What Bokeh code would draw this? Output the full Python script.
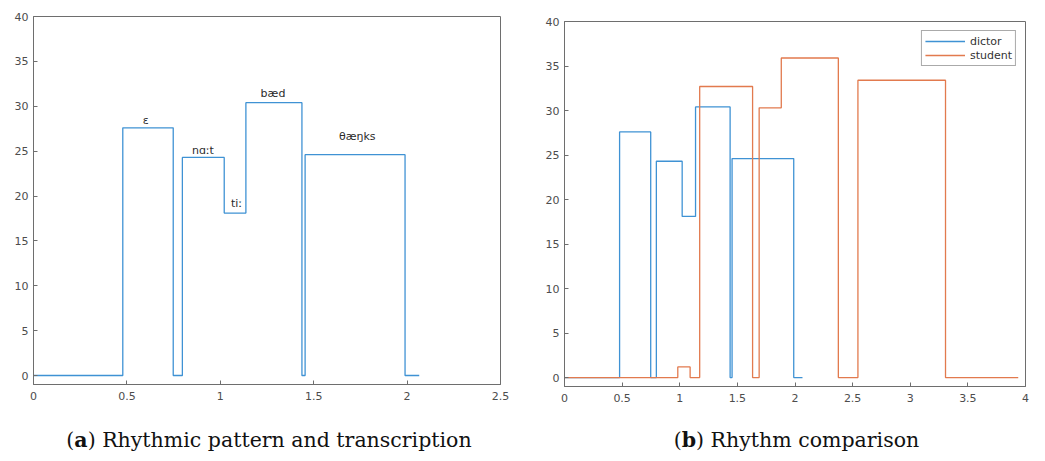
from bokeh.plotting import figure
from bokeh.models import (Range1d, FixedTicker, Div, Legend, LegendItem,
                          NumeralTickFormatter)
from bokeh.layouts import row, column
from bokeh.core.properties import value
from bokeh.embed import file_html
from bokeh.resources import INLINE

# ---- data ----
dictor_edges = [0, 0.478, 0.748, 0.797, 1.021, 1.137, 1.437, 1.454, 1.989, 2.065]
dictor_levels = [0, 27.6, 0, 24.3, 18.1, 30.4, 0, 24.6, 0]

student_edges = [0, 0.983, 1.090, 1.173, 1.632, 1.689, 1.881, 2.376, 2.546, 3.306, 3.937]
student_levels = [0, 1.2, 0, 32.7, 0, 30.3, 35.9, 0, 33.4, 0]

syllables = ["ɛ", "nɑːt", "tiː", "bæd", "θæŋks"]
syll_x = [0.601, 0.907, 1.087, 1.282, 1.733]
syll_y = [28.4, 25.1, 19.2, 31.4, 26.6]

y_ticks = [0, 5, 10, 15, 20, 25, 30, 35, 40]
x_ticks_a = [0, 0.5, 1, 1.5, 2, 2.5]
x_ticks_b = [0, 0.5, 1, 1.5, 2, 2.5, 3, 3.5, 4]

caption_a = "(<b>a</b>) Rhythmic pattern and transcription"
caption_b = "(<b>b</b>) Rhythm comparison"

BLUE = "#3f92d4"
ORANGE = "#e27a4e"
AXIS = "#6e6e6e"
LABEL = "#4d4d4d"
FONT = "DejaVu Sans"


def make_fig(xmax, xticks, fw, fh, bl, bt, br, bb):
    p = figure(frame_width=fw, frame_height=fh,
               x_range=Range1d(0, xmax), y_range=Range1d(-1, 40),
               output_backend="svg", toolbar_location=None,
               min_border_left=bl, min_border_top=bt,
               min_border_right=br, min_border_bottom=bb)
    p.grid.visible = False
    p.outline_line_color = AXIS
    p.outline_line_width = 1
    p.background_fill_color = "white"
    p.border_fill_color = "white"
    for ax, tk in ((p.xaxis[0], xticks), (p.yaxis[0], y_ticks)):
        ax.ticker = FixedTicker(ticks=tk)
        ax.formatter = NumeralTickFormatter(format="0.[0]")
        ax.major_tick_in = 4
        ax.major_tick_out = 0
        ax.minor_tick_line_color = None
        ax.axis_line_color = AXIS
        ax.major_tick_line_color = AXIS
        ax.major_label_text_color = LABEL
        ax.major_label_text_font = FONT
        ax.major_label_text_font_size = "11px"
    p.xaxis.major_label_standoff = 7
    p.yaxis.major_label_standoff = 5
    return p


# ---- panel a ----
pa = make_fig(2.5, x_ticks_a, 467, 368, 33, 16, 38, 24)
pa.step(dictor_edges, dictor_levels + [dictor_levels[-1]], mode="after",
        line_color=BLUE, line_width=1.3)
pa.text(x=syll_x, y=syll_y, text=syllables, text_align="center",
        text_baseline="middle", text_font=value(FONT), text_font_size="11px",
        text_color="#2b2b2b")

# ---- panel b ----
pb = make_fig(4, x_ticks_b, 461, 365, 26, 21, 12, 22)
r1 = pb.step(dictor_edges, dictor_levels + [dictor_levels[-1]], mode="after",
             line_color=BLUE, line_width=1.3)
r2 = pb.step(student_edges, student_levels + [student_levels[-1]], mode="after",
             line_color=ORANGE, line_width=1.3)
leg = Legend(items=[LegendItem(label="dictor", renderers=[r1]),
                    LegendItem(label="student", renderers=[r2])],
             location="top_right", margin=9, padding=3, spacing=0,
             glyph_width=40, glyph_height=14, label_height=14,
             label_standoff=5, label_text_font=FONT, label_text_font_size="11px",
             label_text_color="#333333", border_line_color="#555555",
             border_line_width=1, background_fill_color="white",
             background_fill_alpha=1)
pb.add_layout(leg)


def caption(html, w, shift):
    return Div(text=('<div style="font-family: \'DejaVu Serif\'; font-size: 20.5px; '
                     'color: #111; text-align: center; width: %dpx; padding-top: 18px; '
                     'margin-left: %dpx; white-space: nowrap;">%s</div>') % (w, shift, html),
               width=w, height=48, margin=(0, 0, 0, 0))


ca = caption(caption_a, 538, 0)
cb = caption(caption_b, 499, 9)

layout = row(column(pa, ca), column(pb, cb))

open("out.html", "w").write(file_html(layout, INLINE))
